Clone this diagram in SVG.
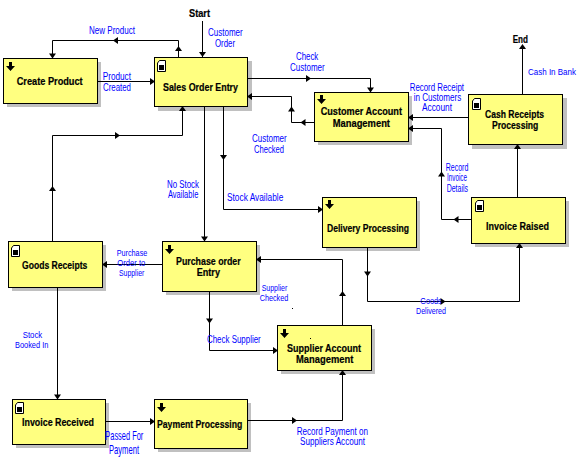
<svg xmlns="http://www.w3.org/2000/svg" width="585" height="464" viewBox="0 0 585 464">
<style>
.shadow{fill:#c0c0c0}
.box{fill:#ffff80;stroke:#000;stroke-width:1}
.line{fill:none;stroke:#000;stroke-width:1}
text{font-family:"Liberation Sans",Arial,sans-serif}
.n{font-size:11px;font-weight:bold;fill:#000;stroke:#000;stroke-width:.2}
.l{font-size:10px;fill:#0000ff}
.s{font-size:9px;fill:#0000ff}
.b{font-size:13px;fill:#0000ff}
</style>
<defs>
<polygon id="a" points="3,0 -2,-3.5 -2,3.5" fill="#000"/>
<polygon id="dn" points="-1.5,0 1.5,0 1.5,4 4.5,4 0,9 -4.5,4 -1.5,4" fill="#000"/>
<g id="doc"><path d="M2.5,.5H8.5V11.5H.5V3Z" fill="#fff" stroke="#000"/><rect x="2" y="5" width="5" height="5" fill="#000"/></g>
</defs>
<rect width="585" height="464" fill="#fff"/>
<g id="node-create-product"><rect class="shadow" x="7" y="62" width="94" height="45"/><rect class="box" x="3.5" y="58.5" width="94" height="45"/><use href="#dn" x="10.5" y="62"/><text class="n" x="16.7" y="85" textLength="66" lengthAdjust="spacingAndGlyphs">Create Product</text></g>
<g id="node-sales-order-entry"><rect class="shadow" x="158" y="61" width="94" height="50"/><rect class="box" x="154.5" y="57.5" width="93" height="49"/><use href="#doc" x="157" y="60"/><text class="n" x="163" y="91" textLength="75" lengthAdjust="spacingAndGlyphs">Sales Order Entry</text></g>
<g id="node-customer-account"><rect class="shadow" x="318" y="96" width="94" height="49"/><rect class="box" x="314.5" y="92.5" width="94" height="49"/><use href="#dn" x="321.5" y="95"/><text class="n" x="320.7" y="115" textLength="81.3" lengthAdjust="spacingAndGlyphs">Customer Account</text><text class="n" x="332.7" y="127" textLength="57.3" lengthAdjust="spacingAndGlyphs">Management</text></g>
<g id="node-cash-receipts"><rect class="shadow" x="472" y="98" width="95" height="51"/><rect class="box" x="468.5" y="94.5" width="94" height="50"/><use href="#doc" x="472" y="98"/><text class="n" x="485" y="118" textLength="59" lengthAdjust="spacingAndGlyphs">Cash Receipts</text><text class="n" x="492" y="129.3" textLength="46.3" lengthAdjust="spacingAndGlyphs">Processing</text></g>
<g id="node-delivery"><rect class="shadow" x="326" y="201" width="94" height="50"/><rect class="box" x="322.5" y="197.5" width="94" height="50"/><use href="#dn" x="329.5" y="200"/><text class="n" x="327" y="232" textLength="82" lengthAdjust="spacingAndGlyphs">Delivery Processing</text></g>
<g id="node-invoice-raised"><rect class="shadow" x="475" y="201" width="94" height="46"/><rect class="box" x="471.5" y="197.5" width="94" height="46"/><use href="#doc" x="475" y="200"/><text class="n" x="486" y="230" textLength="63" lengthAdjust="spacingAndGlyphs">Invoice Raised</text></g>
<g id="node-goods-receipts"><rect class="shadow" x="12" y="245" width="94" height="46"/><rect class="box" x="8.5" y="241.5" width="94" height="46"/><use href="#doc" x="11" y="245"/><text class="n" x="22" y="269" textLength="65.3" lengthAdjust="spacingAndGlyphs">Goods Receipts</text></g>
<g id="node-purchase-order"><rect class="shadow" x="166" y="245" width="94" height="50"/><rect class="box" x="162.5" y="241.5" width="94" height="50"/><use href="#dn" x="169.5" y="245"/><text class="n" x="176" y="265" textLength="64.7" lengthAdjust="spacingAndGlyphs">Purchase order</text><text class="n" x="196.7" y="276" textLength="23.3" lengthAdjust="spacingAndGlyphs">Entry</text></g>
<g id="node-supplier-account"><rect class="shadow" x="281" y="329" width="94" height="45"/><rect class="box" x="277.5" y="325.5" width="94" height="45"/><use href="#dn" x="284.5" y="329"/><text class="n" x="287" y="352" textLength="74" lengthAdjust="spacingAndGlyphs">Supplier Account</text><text class="n" x="296" y="363" textLength="57.3" lengthAdjust="spacingAndGlyphs">Management</text><rect x="310" y="338" width="1" height="1"/></g>
<g id="node-invoice-received"><rect class="shadow" x="16" y="403" width="93" height="45"/><rect class="box" x="12.5" y="399.5" width="93" height="45"/><use href="#doc" x="15" y="402"/><text class="n" x="22" y="426" textLength="72" lengthAdjust="spacingAndGlyphs">Invoice Received</text></g>
<g id="node-payment-processing"><rect class="shadow" x="158" y="403" width="93" height="49"/><rect class="box" x="154.5" y="399.5" width="93" height="49"/><use href="#dn" x="161.5" y="403"/><text class="n" x="157" y="428.3" textLength="85.3" lengthAdjust="spacingAndGlyphs">Payment Processing</text></g>
<g id="connectors">
<path class="line" d="M178.5,57V40.5H52.5V58"/>
<use href="#a" transform="translate(178.5,49) rotate(-90)"/><use href="#a" transform="translate(116,40.5) rotate(180)"/><use href="#a" transform="translate(52.5,55.5) rotate(90)"/>
<path class="line" d="M202.5,21V57"/><use href="#a" transform="translate(202.5,54) rotate(90)"/>
<path class="line" d="M98,81.5H154"/><use href="#a" transform="translate(152,81.5)"/>
<path class="line" d="M52.5,241V135.5H182.5V107"/>
<use href="#a" transform="translate(52.5,189) rotate(-90)"/><use href="#a" transform="translate(117,135.5)"/><use href="#a" transform="translate(182.5,109) rotate(-90)"/>
<path class="line" d="M204.5,107V241"/><use href="#a" transform="translate(204.5,238.5) rotate(90)"/>
<path class="line" d="M223.5,107V209.5H322"/><use href="#a" transform="translate(223.5,157) rotate(90)"/><use href="#a" transform="translate(320,209.5)"/>
<path class="line" d="M248,78.5H370.5V92"/><use href="#a" transform="translate(308,78.5)"/><use href="#a" transform="translate(370.5,89.5) rotate(90)"/>
<path class="line" d="M314,122.5H291.5V96.5H248"/><use href="#a" transform="translate(303.5,122.5) rotate(180)"/><use href="#a" transform="translate(291.5,109.5) rotate(-90)"/><use href="#a" transform="translate(250,96.5) rotate(180)"/>
<path class="line" d="M468,117.5H409"/><use href="#a" transform="translate(411,117.5) rotate(180)"/>
<path class="line" d="M471,219.5H441.5V128.5H409"/><use href="#a" transform="translate(456.5,219.5) rotate(180)"/><use href="#a" transform="translate(441.5,174.5) rotate(-90)"/><use href="#a" transform="translate(411,128.5) rotate(180)"/>
<path class="line" d="M517.5,197V145"/><use href="#a" transform="translate(517.5,147) rotate(-90)"/>
<path class="line" d="M522.5,94V45"/><use href="#a" transform="translate(522.5,47) rotate(-90)"/>
<path class="line" d="M367.5,247V301.5H519.5V244"/><use href="#a" transform="translate(367.5,273.5) rotate(90)"/><use href="#a" transform="translate(442.5,301.5)"/><use href="#a" transform="translate(519.5,246) rotate(-90)"/>
<path class="line" d="M162,264.5H103"/><use href="#a" transform="translate(105,264.5) rotate(180)"/>
<path class="line" d="M57.5,287V399"/><use href="#a" transform="translate(57.5,396.5) rotate(90)"/>
<path class="line" d="M209.5,291V350.5H277"/><use href="#a" transform="translate(209.5,320.5) rotate(90)"/><use href="#a" transform="translate(275,350.5)"/>
<path class="line" d="M342.5,325V259.5H257"/><use href="#a" transform="translate(342.5,294) rotate(-90)"/><use href="#a" transform="translate(259,259.5) rotate(180)"/>
<path class="line" d="M106,421.5H154"/><use href="#a" transform="translate(152,421.5)"/>
<path class="line" d="M248,420.5H342.5V371"/><use href="#a" transform="translate(294,420.5)"/><use href="#a" transform="translate(342.5,373) rotate(-90)"/>
<rect x="292" y="308" width="1" height="1"/>
</g>
<g id="labels">
<text class="n" x="189" y="16.7" textLength="21" lengthAdjust="spacingAndGlyphs">Start</text>
<text class="n" x="512.7" y="43" textLength="15.3" lengthAdjust="spacingAndGlyphs">End</text>
<text class="l" x="89" y="34" textLength="46" lengthAdjust="spacingAndGlyphs">New Product</text>
<text class="l" x="208" y="36" textLength="34.7" lengthAdjust="spacingAndGlyphs">Customer</text>
<text class="l" x="215" y="47" textLength="20" lengthAdjust="spacingAndGlyphs">Order</text>
<text class="l" x="102.7" y="80" textLength="28.3" lengthAdjust="spacingAndGlyphs">Product</text>
<text class="l" x="103" y="90.7" textLength="28" lengthAdjust="spacingAndGlyphs">Created</text>
<text class="l" x="252" y="142" textLength="34.7" lengthAdjust="spacingAndGlyphs">Customer</text>
<text class="l" x="254" y="152.7" textLength="30" lengthAdjust="spacingAndGlyphs">Checked</text>
<text class="l" x="167" y="188" textLength="32" lengthAdjust="spacingAndGlyphs">No Stock</text>
<text class="l" x="168" y="198" textLength="30.3" lengthAdjust="spacingAndGlyphs">Available</text>
<text class="l" x="227" y="201" textLength="56.3" lengthAdjust="spacingAndGlyphs">Stock Available</text>
<text class="l" x="296" y="60" textLength="22.3" lengthAdjust="spacingAndGlyphs">Check</text>
<text class="l" x="290" y="71" textLength="34.7" lengthAdjust="spacingAndGlyphs">Customer</text>
<text class="l" x="409.7" y="91" textLength="54.3" lengthAdjust="spacingAndGlyphs">Record Receipt</text>
<text class="l" x="413.7" y="101" textLength="47.6" lengthAdjust="spacingAndGlyphs">in Customers</text>
<text class="l" x="422" y="111" textLength="30" lengthAdjust="spacingAndGlyphs">Account</text>
<text class="s" x="528" y="75" textLength="48" lengthAdjust="spacingAndGlyphs">Cash In Bank</text>
<text class="l" x="445.7" y="171" textLength="22.6" lengthAdjust="spacingAndGlyphs">Record</text>
<text class="l" x="447" y="181" textLength="20" lengthAdjust="spacingAndGlyphs">Invoice</text>
<text class="l" x="446.7" y="191.7" textLength="21.3" lengthAdjust="spacingAndGlyphs">Details</text>
<text class="s" x="116.7" y="256" textLength="30.6" lengthAdjust="spacingAndGlyphs">Purchase</text>
<text class="s" x="117.3" y="266" textLength="28" lengthAdjust="spacingAndGlyphs">Order to</text>
<text class="s" x="119" y="276" textLength="25.3" lengthAdjust="spacingAndGlyphs">Supplier</text>
<text class="s" x="261.7" y="291.3" textLength="25.6" lengthAdjust="spacingAndGlyphs">Supplier</text>
<text class="s" x="259.7" y="301.3" textLength="28.6" lengthAdjust="spacingAndGlyphs">Checked</text>
<text class="s" x="22.7" y="338.3" textLength="19.6" lengthAdjust="spacingAndGlyphs">Stock</text>
<text class="s" x="15" y="348" textLength="33.3" lengthAdjust="spacingAndGlyphs">Booked In</text>
<text class="l" x="207" y="343.3" textLength="53.7" lengthAdjust="spacingAndGlyphs">Check Supplier</text>
<text class="b" x="105.3" y="440" textLength="38" lengthAdjust="spacingAndGlyphs">Passed For</text>
<text class="b" x="109" y="454" textLength="30" lengthAdjust="spacingAndGlyphs">Payment</text>
<text class="s" x="420.3" y="303.7" textLength="21.4" lengthAdjust="spacingAndGlyphs">Goods</text>
<text class="s" x="416" y="313.7" textLength="30" lengthAdjust="spacingAndGlyphs">Delivered</text>
<text class="l" x="296.7" y="435" textLength="71.3" lengthAdjust="spacingAndGlyphs">Record Payment on</text>
<text class="l" x="300" y="445" textLength="65" lengthAdjust="spacingAndGlyphs">Suppliers Account</text>
</g>
</svg>
